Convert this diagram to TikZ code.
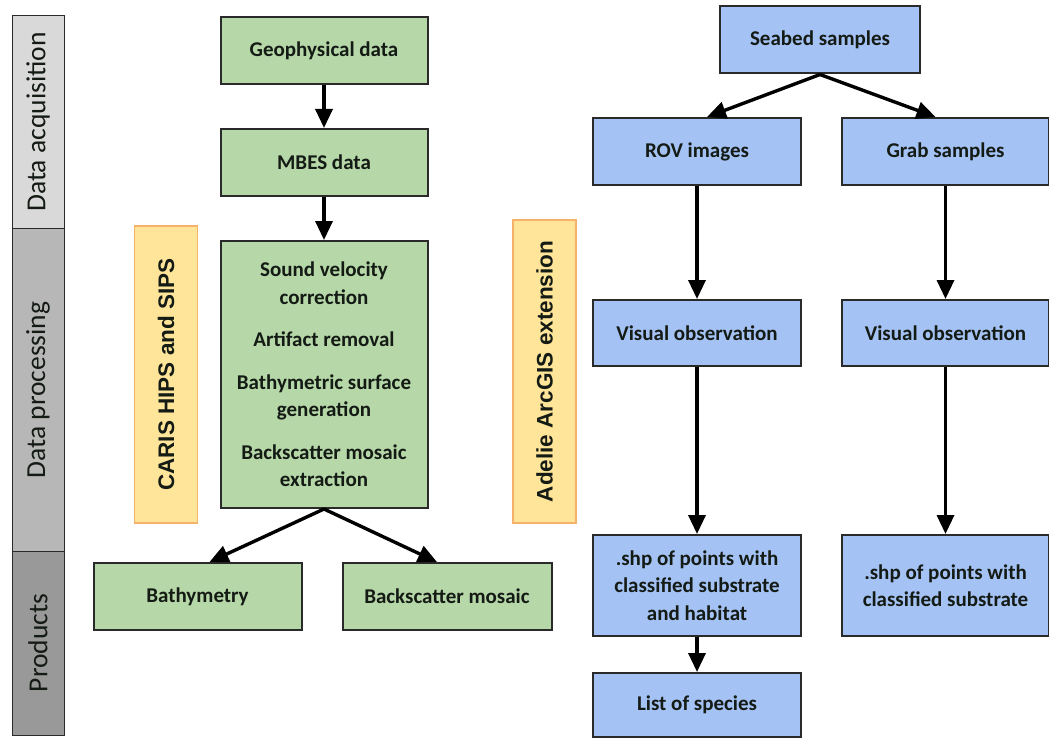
\documentclass[tikz,border=0pt]{standalone}
\usepackage{fontspec}
\setmainfont{Carlito}
\newfontfamily\arialfont{Liberation Sans}
\usetikzlibrary{arrows.meta,calc}
\definecolor{gfill}{HTML}{B6D7A8}
\definecolor{bfill}{HTML}{A4C2F4}
\definecolor{yfill}{HTML}{FFE599}
\definecolor{yborder}{HTML}{F6B26B}
\definecolor{bdr}{HTML}{2A2A2A}
\definecolor{txt}{HTML}{141A14}
\definecolor{bandA}{HTML}{D9D9D9}
\definecolor{bandB}{HTML}{B7B7B7}
\definecolor{bandC}{HTML}{999999}
\tikzset{
  box/.style={draw=bdr, line width=2pt, inner sep=0pt, align=center,
    text=txt, font=\fontsize{21}{27.5}\selectfont\bfseries},
  gbox/.style={box, fill=gfill},
  bbox/.style={box, fill=bfill},
  ybox/.style={draw=yborder, line width=1.4pt, fill=yfill, inner sep=0pt},
  ytext/.style={rotate=90, text=txt, font=\arialfont\fontsize{22.5}{26}\selectfont\bfseries},
  bandbox/.style={draw=bdr, line width=1pt},
  bandtext/.style={rotate=90, text=txt, font=\fontsize{27.5}{30}\selectfont},
  arr/.style={line width=3.4pt, -{Triangle[width=17pt,length=19pt]}},
}
\begin{document}
\begin{tikzpicture}[x=1pt,y=-1pt]
\useasboundingbox (0,0) rectangle (1049,738);
% side band
\draw[bandbox, fill=bandA] (12,16) rectangle (64,228);
\draw[bandbox, fill=bandB] (12,228) rectangle (64,551);
\draw[bandbox, fill=bandC] (12,551) rectangle (64,735);
\node[bandtext] (lacq) at (38,122) {Data acquisition};
\node[bandtext] (lproc) at (38,390) {Data processing};
\node[bandtext] (lprod) at (38,643) {Products};
% yellow software boxes
\node[ybox, minimum width=63pt, minimum height=297pt] (caris) at (166,374.5) {};
\node[ytext] (caristxt) at (caris.center) {CARIS HIPS and SIPS};
\node[ybox, minimum width=63pt, minimum height=303pt] (adelie) at (544.5,371.5) {};
\node[ytext] (adelietxt) at (adelie.center) {Adelie ArcGIS extension};
% green chain
\node[gbox, minimum width=207pt, minimum height=67pt] (geo) at (324,50.5) {Geophysical data};
\node[gbox, minimum width=207pt, minimum height=67pt] (mbes) at (324,162.5) {MBES data};
\node[gbox, minimum width=207pt, minimum height=267pt] (proc) at (324,374.5)
  {Sound velocity\\correction\\[15pt]Artifact removal\\[15pt]Bathymetric surface\\generation\\[15pt]Backscatter mosaic\\extraction};
\node[gbox, minimum width=208pt, minimum height=67pt] (bath) at (197.5,596.5) {Bathymetry};
\node[gbox, minimum width=209pt, minimum height=67pt] (back) at (447,596.5) {Backscatter mosaic};
% blue chain
\node[bbox, minimum width=200pt, minimum height=67pt] (seabed) at (820,40) {Seabed samples};
\node[bbox, minimum width=208pt, minimum height=67pt] (rov) at (697,151.5) {ROV images};
\node[bbox, minimum width=207pt, minimum height=67pt] (grab) at (945.5,151.5) {Grab samples};
\node[bbox, minimum width=208pt, minimum height=66pt] (vis1) at (697,333) {Visual observation};
\node[bbox, minimum width=207pt, minimum height=66pt] (vis2) at (945.5,333) {Visual observation};
\node[bbox, minimum width=208pt, minimum height=101pt] (shp1) at (697,585.5) {.shp of points with\\classified substrate\\and habitat};
\node[bbox, minimum width=207pt, minimum height=101pt] (shp2) at (945.5,585.5) {.shp of points with\\classified substrate};
\node[bbox, minimum width=208pt, minimum height=64pt] (list) at (697,705) {List of species};
% arrows
\draw[arr] (geo.south) -- (mbes.north);
\draw[arr] (mbes.south) -- (proc.north);
\draw[arr] (proc.south) -- ($(bath.north)+(12,0)$);
\draw[arr] (proc.south) -- ($(back.north)+(-10,0)$);
\draw[arr] (seabed.south) -- ($(rov.north)+(10,0)$);
\draw[arr] (seabed.south) -- ($(grab.north)+(-10,0)$);
\draw[arr] (rov.south) -- (vis1.north);
\draw[arr] (grab.south) -- (vis2.north);
\draw[arr] (vis1.south) -- (shp1.north);
\draw[arr] (vis2.south) -- (shp2.north);
\draw[arr] (shp1.south) -- (list.north);
\end{tikzpicture}
\end{document}
